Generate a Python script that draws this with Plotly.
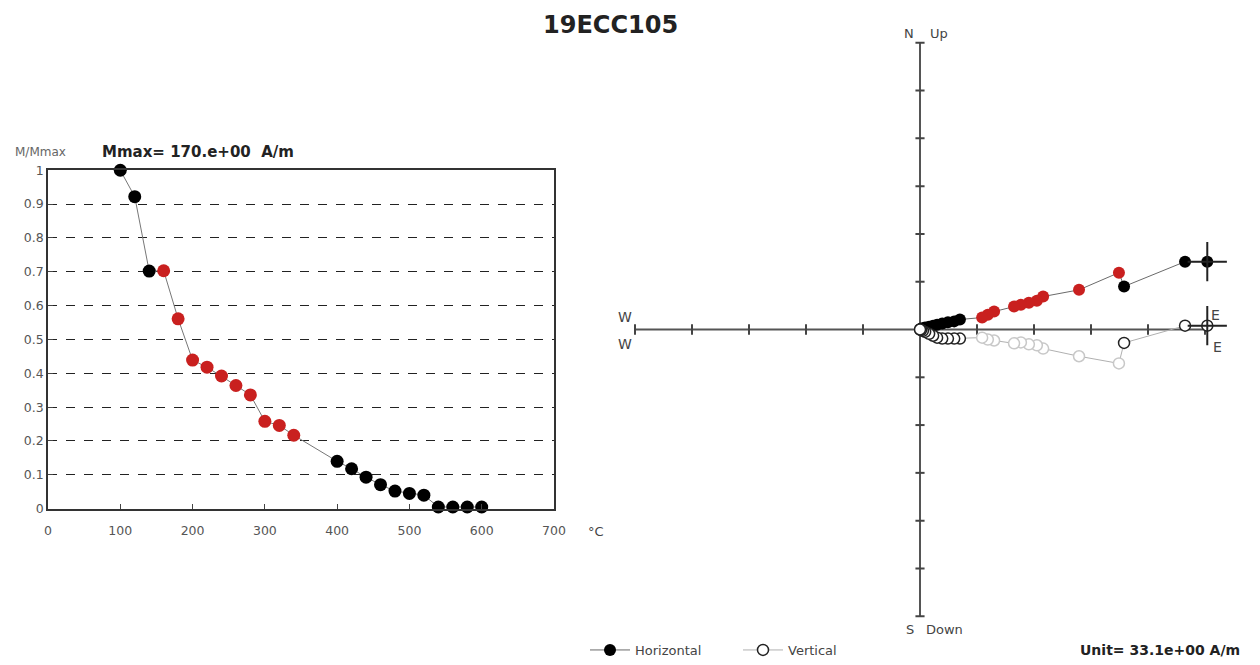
import plotly.graph_objects as go

# ---------------- data ----------------
temps = [100, 120, 140, 160, 180, 200, 220, 240, 260, 280, 300, 320, 340,
         400, 420, 440, 460, 480, 500, 520, 540, 560, 580, 600]
m_norm = [1.0, 0.922, 0.702, 0.703, 0.561, 0.439, 0.418, 0.392, 0.364, 0.336,
          0.258, 0.246, 0.217, 0.14, 0.118, 0.093, 0.071, 0.052, 0.045, 0.040,
          0.005, 0.005, 0.005, 0.005]
fit_temps = [160, 180, 200, 220, 240, 260, 280, 300, 320, 340]

# Zijderveld components in units of 33.1 A/m
east = [5.04, 4.65, 3.58, 3.49, 2.79, 2.16, 2.05, 1.91, 1.77, 1.65, 1.30, 1.19, 1.09,
        0.70, 0.60, 0.49, 0.39, 0.30, 0.23, 0.16, 0.09, 0.05, 0.02, 0.0]
north = [1.42, 1.42, 0.90, 1.19, 0.83, 0.69, 0.60, 0.56, 0.52, 0.48, 0.375, 0.31, 0.25,
         0.21, 0.17, 0.15, 0.125, 0.10, 0.08, 0.06, 0.04, 0.02, 0.02, 0.0]
up = [0.08, 0.08, -0.28, -0.71, -0.56, -0.40, -0.33, -0.31, -0.27, -0.29, -0.23, -0.21, -0.17,
      -0.19, -0.19, -0.19, -0.19, -0.17, -0.13, -0.09, -0.05, -0.03, -0.01, 0.0]

x_ticks = [0, 100, 200, 300, 400, 500, 600, 700]
y_ticks = [0, 0.1, 0.2, 0.3, 0.4, 0.5, 0.6, 0.7, 0.8, 0.9, 1.0]
y_tick_text = ["0", "0.1", "0.2", "0.3", "0.4", "0.5", "0.6", "0.7", "0.8", "0.9", "1"]
h_ticks = [-5, -4, -3, -2, -1, 1, 2, 3, 4, 5]
v_ticks = [-6, -5, -4, -3, -2, -1, 1, 2, 3, 4, 5, 6]

title_text = "19ECC105"
mmax_text = "Mmax= 170.e+00  A/m"
unit_text = "Unit= 33.1e+00 A/m"

# ---------------- layout helpers ----------------
W, H = 1260, 665
FONT = "DejaVu Sans, Verdana, sans-serif"
RED = "#c9201f"


def px(x):
    return x / W


def py(y):
    return 1 - y / H


in_fit = [t in fit_temps for t in temps]
h_colors = [RED if f else "black" for f in in_fit]
v_edges = ["#c8c8c8" if f else "#222222" for f in in_fit]

fig = go.Figure()

# ---- left: normalized intensity vs temperature ----
fig.add_trace(go.Scatter(
    x=temps, y=m_norm, mode="lines+markers",
    line=dict(color="#777777", width=1),
    marker=dict(size=13, color=h_colors, line=dict(width=0)),
    xaxis="x", yaxis="y", showlegend=False, cliponaxis=False, hoverinfo="x+y"))

# ---- right: Zijderveld ----
fig.add_trace(go.Scatter(
    x=east, y=north, mode="lines+markers", name="Horizontal",
    line=dict(color="#6a6a6a", width=1),
    marker=dict(size=12, color=h_colors, line=dict(width=0)),
    xaxis="x2", yaxis="y2", cliponaxis=False))
fig.add_trace(go.Scatter(
    x=east, y=up, mode="lines+markers", name="Vertical",
    line=dict(color="#b0b0b0", width=1),
    marker=dict(size=11, color="white", line=dict(width=1.5, color=v_edges)),
    xaxis="x2", yaxis="y2", cliponaxis=False))
# start markers (crosses at NRM)
fig.add_trace(go.Scatter(
    x=[east[0], east[0]], y=[north[0], up[0]], mode="markers",
    marker=dict(symbol="cross-thin-open", size=28, color="#222222", line=dict(width=2, color="#222222")),
    xaxis="x2", yaxis="y2", showlegend=False, cliponaxis=False, hoverinfo="skip"))

shapes = []
AX = dict(color="#555555", width=2)
shapes.append(dict(type="line", xref="x2", yref="y2", x0=-5, x1=5.1, y0=0, y1=0, line=AX, layer="below"))
shapes.append(dict(type="line", xref="x2", yref="y2", x0=0, x1=0, y0=-6, y1=6, line=AX, layer="below"))
for t in h_ticks:
    shapes.append(dict(type="line", xref="x2", yref="y2", x0=t, x1=t, y0=-0.11, y1=0.11,
                       line=dict(color="#444", width=2), layer="below"))
for t in v_ticks:
    shapes.append(dict(type="line", xref="x2", yref="y2", x0=-0.08, x1=0.08, y0=t, y1=t,
                       line=dict(color="#444", width=2), layer="below"))

ann = []


def text(x, y, s, size=13, color="#444", bold=False, xanchor="center"):
    ann.append(dict(x=px(x), y=py(y), xref="paper", yref="paper", text=("<b>%s</b>" % s) if bold else s,
                    showarrow=False, xanchor=xanchor, yanchor="middle",
                    font=dict(family=FONT, size=size, color=color)))


text(610, 25, title_text, size=24, color="#222", bold=True)
text(40, 153, "M/Mmax", size=12, color="#666")
text(100, 153, mmax_text, size=15, color="#222", bold=True, xanchor="left")
text(596, 534, "°C", size=13, color="#444")
text(909, 34, "N", size=13, color="#444")
text(939, 34, "Up", size=13, color="#444")
text(910, 632, "S", size=13, color="#444")
text(944, 632, "Down", size=13, color="#444")
text(625, 318, "W", size=14, color="#444")
text(625, 346, "W", size=14, color="#444")
text(1215, 316, "E", size=14, color="#444")
text(1217, 349, "E", size=14, color="#444")
text(1160, 653, unit_text, size=14, color="#222", bold=True)

# Zijderveld axes geometry: 57 px per unit horizontally, 48 px per unit vertically, origin (920, 331)
xr = 5.6
yr = 6.3
x2_dom = [px(920 - xr * 57), px(920 + xr * 57)]
y2_dom = [py(331 + yr * 48), py(331 - yr * 48)]

fig.update_layout(
    template="none",
    width=W, height=H,
    margin=dict(l=0, r=0, t=0, b=0),
    paper_bgcolor="white", plot_bgcolor="white",
    font=dict(family=FONT, size=12, color="#444"),
    xaxis=dict(domain=[px(48), px(554)], range=[0, 700], tickvals=x_ticks,
               ticks="inside", ticklen=5, tickcolor="#444", showgrid=False, zeroline=False,
               showline=True, linecolor="#333", linewidth=1.5, mirror=True,
               ticklabelstandoff=10,
               tickfont=dict(size=12.5, color="#555", family=FONT), fixedrange=True),
    yaxis=dict(domain=[py(511), py(171)], range=[0, 1], tickvals=y_ticks, ticktext=y_tick_text,
               ticks="inside", ticklen=5, tickcolor="#444",
               showgrid=True, gridcolor="#222", griddash="dash", gridwidth=1, zeroline=False,
               showline=True, linecolor="#333", linewidth=1.5, mirror=True,
               tickfont=dict(size=12.5, color="#555", family=FONT), fixedrange=True),
    xaxis2=dict(domain=x2_dom, range=[-xr, xr], visible=False, fixedrange=True),
    yaxis2=dict(domain=y2_dom, range=[-yr, yr], visible=False, fixedrange=True, anchor="x2"),
    shapes=shapes,
    annotations=ann,
    showlegend=True,
    legend=dict(orientation="h", x=px(585), y=py(653), xanchor="left", yanchor="middle",
                font=dict(size=13, color="#444", family=FONT), bgcolor="rgba(0,0,0,0)",
                itemwidth=40, entrywidth=98, entrywidthmode="pixels"),
)

fig.write_html("out.html", config={"displayModeBar": False},
               post_script="document.body.style.margin='0';document.body.style.overflow='hidden';")
